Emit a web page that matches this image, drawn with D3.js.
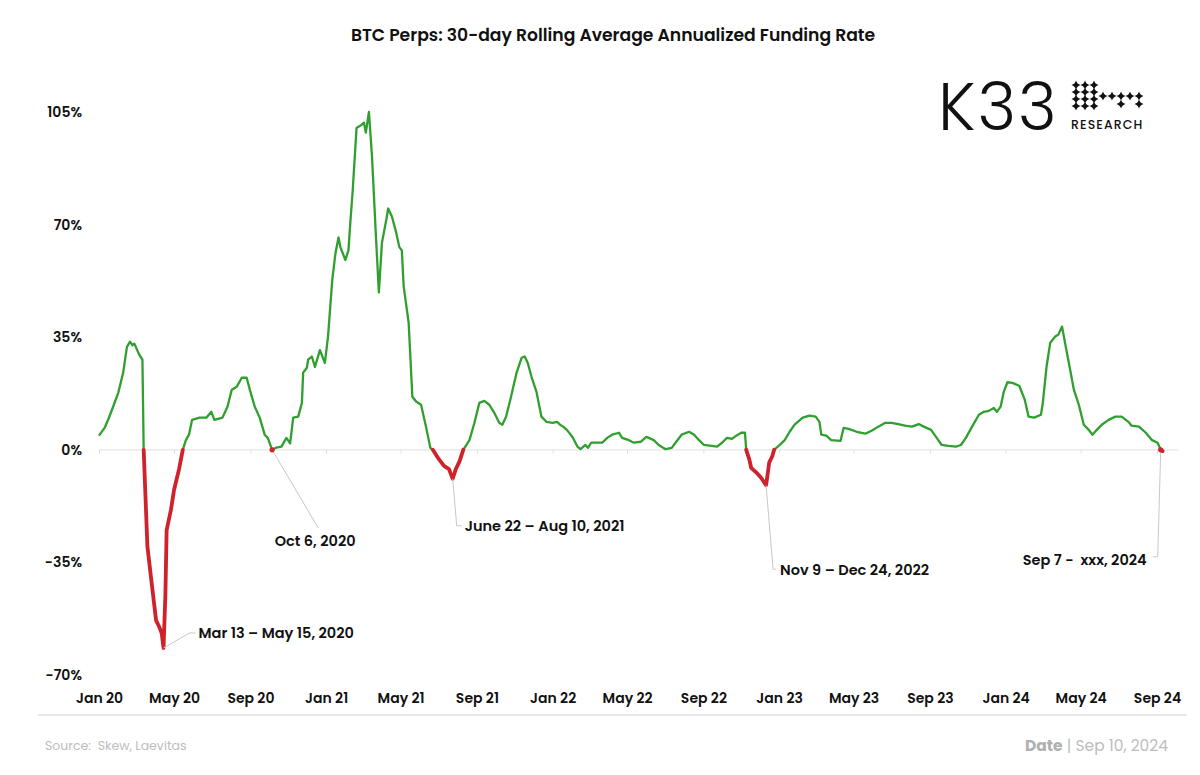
<!DOCTYPE html>
<html><head><meta charset="utf-8">
<script src="https://cdn.jsdelivr.net/npm/d3@7"></script>
<style>
body{margin:0;background:#fff;}
svg text{font-family:Poppins, Inter, "Open Sans", sans-serif;}
</style></head><body>
<svg id="chart" width="1200" height="775"></svg>
<script>
// ---------- DATA ----------
const dates = [
"2020-01-01","2020-01-05","2020-01-10","2020-01-16","2020-01-23","2020-02-01","2020-02-09","2020-02-15","2020-02-20","2020-02-24","2020-02-27","2020-03-06","2020-03-11","2020-03-13",
"2020-03-19","2020-03-25","2020-04-02","2020-04-07","2020-04-11","2020-04-14","2020-04-17","2020-04-19","2020-04-26","2020-05-01","2020-05-09","2020-05-15",
"2020-05-20","2020-05-25","2020-05-30","2020-06-11","2020-06-22","2020-06-30","2020-07-05","2020-07-18","2020-07-26","2020-08-02","2020-08-10","2020-08-18","2020-08-26","2020-08-31","2020-09-08","2020-09-16","2020-09-24","2020-09-29","2020-10-06",
"2020-10-13","2020-10-21","2020-10-29","2020-11-04","2020-11-09","2020-11-17","2020-11-23","2020-11-25","2020-12-01","2020-12-03","2020-12-09","2020-12-14","2020-12-22","2020-12-30",
"2021-01-04","2021-01-11","2021-01-16","2021-01-21","2021-01-24","2021-02-01","2021-02-06","2021-02-09","2021-02-13","2021-02-19","2021-02-27","2021-03-03","2021-03-06","2021-03-11","2021-03-16","2021-03-22","2021-03-27",
"2021-04-01","2021-04-08","2021-04-11","2021-04-17","2021-04-24","2021-04-29","2021-05-03","2021-05-06","2021-05-14","2021-05-20","2021-05-26","2021-06-03","2021-06-11","2021-06-18","2021-06-22",
"2021-07-02","2021-07-10","2021-07-18","2021-07-24","2021-07-29","2021-08-04","2021-08-10",
"2021-08-20","2021-08-28","2021-09-05","2021-09-13","2021-09-21","2021-09-29","2021-10-07","2021-10-12","2021-10-18","2021-10-26","2021-11-04","2021-11-12","2021-11-17","2021-11-22","2021-11-28","2021-12-06","2021-12-14","2021-12-22",
"2022-01-01","2022-01-08","2022-01-13","2022-01-18","2022-01-24","2022-02-02","2022-02-10","2022-02-15","2022-02-23","2022-02-27","2022-03-04","2022-03-12","2022-03-22","2022-03-30","2022-04-07","2022-04-18","2022-04-23","2022-05-04","2022-05-12","2022-05-23",
"2022-06-01","2022-06-05","2022-06-13","2022-06-21","2022-07-02","2022-07-12","2022-07-18","2022-07-28","2022-08-09","2022-08-17","2022-08-25","2022-09-02","2022-09-14","2022-09-23","2022-10-01","2022-10-09","2022-10-17","2022-10-24","2022-11-01","2022-11-07","2022-11-09",
"2022-11-14","2022-11-17","2022-11-25","2022-12-03","2022-12-11","2022-12-13","2022-12-16","2022-12-21","2022-12-24",
"2023-01-02","2023-01-10","2023-01-18","2023-01-26","2023-02-08","2023-02-19","2023-03-01","2023-03-07","2023-03-10","2023-03-18","2023-03-26","2023-04-10","2023-04-15","2023-04-23","2023-05-06","2023-05-20","2023-05-30",
"2023-06-10","2023-06-21","2023-07-01","2023-07-12","2023-07-23","2023-08-03","2023-08-14","2023-08-22","2023-09-03","2023-09-12","2023-09-20","2023-10-01","2023-10-13","2023-10-21","2023-10-29","2023-11-08","2023-11-19","2023-11-27","2023-12-05","2023-12-13","2023-12-18","2023-12-24","2023-12-29",
"2024-01-04","2024-01-12","2024-01-23","2024-02-01","2024-02-07","2024-02-16","2024-02-27","2024-03-01","2024-03-07","2024-03-13","2024-03-21","2024-03-26","2024-04-01","2024-04-07","2024-04-12","2024-04-20","2024-04-28",
"2024-05-06","2024-05-14","2024-05-20","2024-05-27","2024-06-04","2024-06-15","2024-06-26","2024-07-06","2024-07-17","2024-07-22","2024-08-03","2024-08-14","2024-08-24","2024-09-02","2024-09-07","2024-09-10"
];
const rates = [
4.4,5.5,6.8,9.5,13,17.7,24,32,33.6,32.5,33,29.5,28,0,
-30,-40,-53,-55,-57,-61.6,-45,-25,-18.6,-12.4,-6,0,
3,4.7,9.3,10,10,11.8,9.3,10,13.4,18.7,19.6,22.4,22.4,18.7,13.4,10,4.7,3.7,0,
0.7,1,3.7,2,10,10.3,14.6,24,25.5,28,29,25.8,31,27,
35,53,61,66,63,59,62,70.6,81,100,101,101.7,98.6,105,91,67.5,48.9,
64.4,71.5,75,72.5,67.5,63,62,50.8,39.5,16.5,15,14,7.2,0.6,0,
-3,-5,-6,-9,-6,-3.6,0,
3,8.4,14.6,15.2,14,11.5,8.4,7.8,10.3,16.5,24,28.6,29,27,22.7,18,10.3,8.7,
8.4,8.7,7.8,7.2,6.2,4,1,0.2,1.5,0.6,2.2,2.2,2.2,3.7,4.7,5.3,3.7,3,2.2,2.5,
4,3.7,3,1.5,0.2,0.6,2.2,4.7,5.6,4.7,3,1.5,1.2,1,2.2,3.7,3.4,4.4,5.3,5.3,0,
-3,-5.6,-7,-8.7,-11,-8.4,-4,-2,0,
1.5,3,5.6,7.8,10,10.6,10.3,8.7,4.7,4.4,3,2.8,6.8,6.5,5.6,5,5.9,
7.2,8.4,8.4,8,7.5,7.2,8,7.2,6.2,3.7,1.5,1.2,1,1.5,3.7,7.2,10.9,11.8,12.1,13,11.8,13.4,18,
21,20.8,19.9,15.5,10.3,10,10.9,14.6,25.8,33.3,35.2,35.8,38.3,32,27,18.7,14,
7.8,6.2,4.7,6.2,7.8,9.3,10.3,10.3,8.7,7.5,7.2,5.3,3,2.2,0,-0.4
];
const xTickDates = ["2020-01-01","2020-05-01","2020-09-01","2021-01-01","2021-05-01","2021-09-01","2022-01-01","2022-05-01","2022-09-01","2023-01-01","2023-05-01","2023-09-01","2024-01-01","2024-05-01","2024-09-01"];
const yTickValues = [-70,-35,0,35,70,105];
const annoDates = ["2020-04-14","2020-10-06","2021-07-24","2022-12-11","2024-09-07"];
const annoLabels = ["Mar 13 \u2013 May 15, 2020","Oct 6, 2020","June 22 \u2013 Aug 10, 2021","Nov 9 \u2013 Dec 24, 2022","Sep 7 -  xxx, 2024"];
const titleText = "BTC Perps: 30-day Rolling Average Annualized Funding Rate";
const sourceText = "Source:  Skew, Laevitas";
const dateLabel = "Date";
const dateText = " | Sep 10, 2024";

// ---------- SETUP ----------
const parse = d3.timeParse("%Y-%m-%d");
const data = dates.map((d,i)=>({date:parse(d), v:rates[i]}));
const svg = d3.select("#chart");
svg.append("rect").attr("width",1200).attr("height",775).attr("fill","#fff");

const x = d3.scaleTime().domain([parse("2020-01-01"), parse("2024-09-01")]).range([99,1157]);
const y = d3.scaleLinear().domain([-70,105]).range([675,112]);
const GREEN = "#2f9f2f", RED = "#d0222b";

// title
svg.append("text").attr("x",613).attr("y",35).attr("dy","0.35em").attr("text-anchor","middle")
  .attr("font-size",17.2).attr("font-weight",600).attr("fill","#111").text(titleText);

// zero line
svg.append("line").attr("x1",99).attr("x2",1178).attr("y1",y(0)).attr("y2",y(0))
  .attr("stroke","#e6e6e6").attr("stroke-width",1.2);
const zeroAxis = svg.append("g").attr("transform",`translate(0,${y(0)})`)
  .call(d3.axisBottom(x).tickValues(xTickDates.map(parse)).tickSize(4).tickFormat(""));
zeroAxis.select(".domain").remove();
zeroAxis.selectAll("line").attr("stroke","#e0e0e0");

// bottom axis with labels
const bottomAxis = svg.append("g").attr("transform","translate(0,690)")
  .call(d3.axisBottom(x).tickValues(xTickDates.map(parse)).tickSize(0).tickFormat(d3.timeFormat("%b %y")));
bottomAxis.select(".domain").remove();
bottomAxis.selectAll("text").attr("font-size",14).attr("font-weight",600).attr("fill","#111")
  .attr("font-family","Poppins, Inter, sans-serif").attr("dy","0.71em");
svg.append("line").attr("x1",38).attr("x2",1187).attr("y1",715).attr("y2",715)
  .attr("stroke","#e8e8e8").attr("stroke-width",2);

// y axis
const yAxis = svg.append("g").attr("transform","translate(82,0)")
  .call(d3.axisLeft(y).tickValues(yTickValues).tickSize(0).tickPadding(0).tickFormat(d=>d+"%"));
yAxis.select(".domain").remove();
yAxis.selectAll("text").attr("font-size",14).attr("font-weight",600).attr("fill","#111")
  .attr("font-family","Poppins, Inter, sans-serif");

// lines
const gLine = d3.line().x(d=>x(d.date)).y(d=>y(d.v)).defined(d=>d.v>=0);
const rLine = d3.line().x(d=>x(d.date)).y(d=>y(d.v)).defined(d=>d.v<=0);
svg.append("path").datum(data).attr("d",gLine).attr("fill","none").attr("stroke",GREEN)
  .attr("stroke-width",2.3).attr("stroke-linejoin","round");
svg.append("path").datum(data).attr("d",rLine).attr("fill","none").attr("stroke",RED)
  .attr("stroke-width",3.8).attr("stroke-linejoin","round").attr("stroke-linecap","round");

// annotations
const annoOffsets = [
  {path:[[26,-15],[32,-15]], t:[35,-15], anchor:"start"},
  {path:[[46,78]], t:[43,91], anchor:"middle"},
  {path:[[4,47],[9,47]], t:[12,47], anchor:"start"},
  {path:[[7,84],[10,84]], t:[14,85], anchor:"start"},
  {path:[[-3,107],[-8,107]], t:[-14,110], anchor:"end"}
];
annoDates.forEach((ds,i)=>{
  const pd = parse(ds);
  const pt = data.find(d=>+d.date===+pd);
  const ax = x(pt.date), ay = y(pt.v);
  const o = annoOffsets[i];
  const pts = [[ax,ay]].concat(o.path.map(p=>[ax+p[0], ay+p[1]]));
  svg.append("path").attr("d",d3.line()(pts)).attr("fill","none").attr("stroke","#c8c8c8").attr("stroke-width",1);
  if (pt.v===0) svg.append("circle").attr("cx",ax).attr("cy",ay).attr("r",2.6).attr("fill",RED);
  svg.append("text").attr("x",ax+o.t[0]).attr("y",ay+o.t[1]).attr("dy","0.35em")
    .attr("text-anchor",o.anchor).attr("font-size",14.5).attr("font-weight",600).attr("fill","#111")
    .style("white-space","pre").text(annoLabels[i]);
});

// logo
const logo = svg.append("g");
logo.append("text").attr("x",938).attr("y",130).attr("font-size",66).attr("font-weight",300)
  .attr("font-family","Inter, sans-serif").attr("fill","#111").attr("letter-spacing",2).text("K33");
logo.append("text").attr("x",1071).attr("y",129).attr("font-size",12.5).attr("font-weight",500)
  .attr("font-family","Inter, sans-serif").attr("fill","#111").attr("letter-spacing",1.1).text("RESEARCH");
const starCols = [1076,1085,1094], starRows = [85,92,99,106];
const stars = [];
starRows.forEach(r=>starCols.forEach(c=>stars.push([c,r])));
[1103,1112,1121,1130,1139].forEach(c=>stars.push([c,96]));
[1121,1139].forEach(c=>stars.push([c,104]));
const starPath = (cx,cy,s)=>`M${cx},${cy-s} Q${cx+1},${cy-1} ${cx+s},${cy} Q${cx+1},${cy+1} ${cx},${cy+s} Q${cx-1},${cy+1} ${cx-s},${cy} Q${cx-1},${cy-1} ${cx},${cy-s}Z`;
logo.selectAll("path.star").data(stars).join("path").attr("class","star")
  .attr("d",d=>starPath(d[0],d[1],4.5)).attr("fill","#111");

// footer
svg.append("text").attr("x",45).attr("y",746).attr("dy","0.35em").attr("font-size",12.5)
  .attr("fill","#bdbdbd").style("white-space","pre").text(sourceText);
const ft = svg.append("text").attr("x",1168).attr("y",746).attr("dy","0.35em").attr("text-anchor","end")
  .attr("font-size",15.5).attr("fill","#bdbdbd").style("white-space","pre");
ft.append("tspan").attr("font-weight",700).attr("fill","#b0b0b0").text(dateLabel);
ft.append("tspan").text(dateText);
</script></body></html>
